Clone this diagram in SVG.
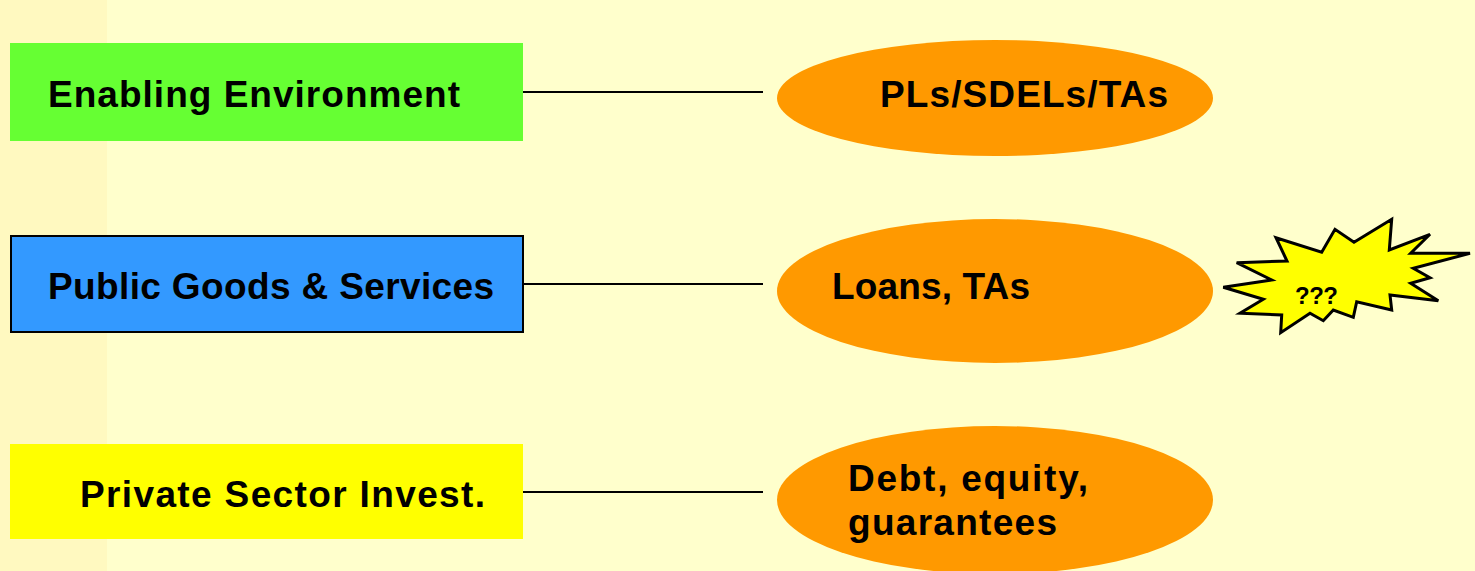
<svg xmlns="http://www.w3.org/2000/svg" width="1475" height="571" viewBox="0 0 1475 571">
  <style>
    .lbl { font-family: "Liberation Sans", Arial, sans-serif; font-weight: bold; font-size: 37px; fill: #000; }
    .link { stroke: #000; stroke-width: 2; fill: none; }
    .oval { fill: #FF9900; }
  </style>
  <!-- background with darker left strip -->
  <rect x="0" y="0" width="1475" height="571" fill="#FFFFCC"/>
  <rect x="0" y="0" width="107" height="571" fill="#FFF9C0"/>

  <g id="connectors">
    <line class="link" x1="523" y1="92" x2="763" y2="92"/>
    <line class="link" x1="523" y1="284" x2="763" y2="284"/>
    <line class="link" x1="523" y1="492" x2="763" y2="492"/>
  </g>

  <g id="enabling">
    <rect x="10" y="43" width="513" height="98" fill="#66FF33"/>
    <text class="lbl" x="48" y="107" textLength="412" lengthAdjust="spacing">Enabling Environment</text>
  </g>
  <g id="public">
    <rect x="11" y="236" width="512" height="96" fill="#3399FF" stroke="#000" stroke-width="2"/>
    <text class="lbl" x="48" y="299" textLength="446" lengthAdjust="spacing">Public Goods &amp; Services</text>
  </g>
  <g id="private">
    <rect x="10" y="444" width="513" height="95" fill="#FFFF00"/>
    <text class="lbl" x="80" y="507" textLength="405" lengthAdjust="spacing">Private Sector Invest.</text>
  </g>

  <g id="pls">
    <ellipse class="oval" cx="995" cy="98" rx="218" ry="58"/>
    <text class="lbl" x="880" y="107" textLength="288" lengthAdjust="spacing">PLs/SDELs/TAs</text>
  </g>
  <g id="loans">
    <ellipse class="oval" cx="995" cy="291" rx="218" ry="72"/>
    <text class="lbl" x="832" y="299" textLength="198" lengthAdjust="spacing">Loans, TAs</text>
  </g>
  <g id="debt">
    <ellipse class="oval" cx="995" cy="500" rx="218" ry="74"/>
    <text class="lbl" x="848" y="491" textLength="240" lengthAdjust="spacing">Debt, equity,</text>
    <text class="lbl" x="848" y="535" textLength="209" lengthAdjust="spacing">guarantees</text>
  </g>

  <g id="burst">
    <polygon fill="#FFFF00" stroke="#000" stroke-width="3" stroke-linejoin="miter"
      points="1236.7,262.7 1287,261 1276,237.7 1321.7,252.3 1335,229.3 1354,242.3 1391.7,219.3 1389.3,250 1430,234.3 1410.7,253.3 1470,253.3 1413.3,268.3 1430,277.7 1410.7,283.3 1438.3,300.7 1390,295 1391.7,310 1356.7,301.7 1353.3,317.3 1333.3,310 1323.3,320.7 1310,313.3 1280.7,332.7 1281.7,315 1240,313.3 1263.3,299.3 1223.3,287.3 1271.7,280"/>
    <text x="1295" y="304" font-family="Liberation Sans, Arial, sans-serif" font-weight="bold" font-size="24" textLength="43" lengthAdjust="spacing">???</text>
  </g>
</svg>
